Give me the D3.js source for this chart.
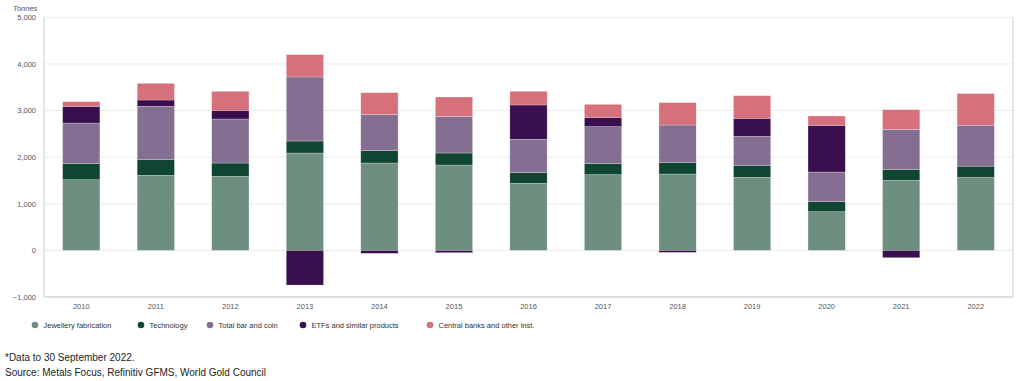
<!DOCTYPE html>
<html>
<head>
<meta charset="utf-8">
<script src="https://cdn.jsdelivr.net/npm/d3@7"></script>
<style>
  body { margin: 0; background: #fff; font-family: "Liberation Sans", Arial, sans-serif; }
  .note { font-size: 10px; fill: #222; }
</style>
</head>
<body>
<div id="chart"></div>
<script>

// frame constants
const FRAME_WIDTH = 1024;
const FRAME_HEIGHT = 381;
const MARGINS = {left: 44, right: 11, top: 17.3, bottom: 84};

const VIS_WIDTH = FRAME_WIDTH - MARGINS.left - MARGINS.right;
const VIS_HEIGHT = FRAME_HEIGHT - MARGINS.top - MARGINS.bottom;

// data (tonnes)
const YEARS = ["2010", "2011", "2012", "2013", "2014", "2015", "2016",
               "2017", "2018", "2019", "2020", "2021", "2022"];
const JEWELLERY = [1516, 1609, 1588, 2089, 1874, 1831, 1438, 1624, 1638, 1567, 830, 1502, 1564];
const TECHNOLOGY = [344, 344, 286, 257, 265, 258, 236, 236, 250, 257, 214, 236, 243];
const BAR_COIN = [872, 1137, 944, 1374, 779, 787, 708, 794, 802, 622, 637, 859, 879];
const ETFS = [358, 136, 186, -744, -64, -50, 737, 200, -43, 387, 1001, -157, 0];
const CENTRAL_BANKS = [100, 358, 408, 479, 465, 414, 293, 279, 479, 486, 201, 422, 678];

const SERIES = ["Jewellery fabrication", "Technology", "Total bar and coin",
                "ETFs and similar products", "Central banks and other inst."];
const COLORS = ["#6e8f80", "#0f4531", "#846f93", "#3a0f4e", "#d6707a"];
const Y_TICKS = [-1000, 0, 1000, 2000, 3000, 4000, 5000];

// table for the stack
const table = YEARS.map((y, i) => ({
  year: y,
  [SERIES[0]]: JEWELLERY[i],
  [SERIES[1]]: TECHNOLOGY[i],
  [SERIES[2]]: BAR_COIN[i],
  [SERIES[3]]: ETFS[i],
  [SERIES[4]]: CENTRAL_BANKS[i]
}));

const stacked = d3.stack()
  .keys(SERIES)
  .offset(d3.stackOffsetDiverging)(table);

const FRAME = d3.select("#chart")
  .append("svg")
    .attr("width", FRAME_WIDTH)
    .attr("height", FRAME_HEIGHT);

const X_SCALE = d3.scaleBand()
  .domain(YEARS)
  .range([0, VIS_WIDTH])
  .paddingInner(0.5)
  .paddingOuter(0.25);

const Y_SCALE = d3.scaleLinear()
  .domain([-1000, 5000])
  .range([VIS_HEIGHT, 0]);

const G = FRAME.append("g")
  .attr("transform", "translate(" + MARGINS.left + "," + MARGINS.top + ")");

// gridlines
G.append("g")
  .selectAll("line")
  .data(Y_TICKS)
  .enter()
  .append("line")
    .attr("x1", 0)
    .attr("x2", VIS_WIDTH)
    .attr("y1", (d) => Y_SCALE(d))
    .attr("y2", (d) => Y_SCALE(d))
    .attr("stroke", "#ebebeb")
    .attr("stroke-width", 1);

// bars
G.append("g")
  .selectAll("g")
  .data(stacked)
  .enter()
  .append("g")
    .attr("fill", (d, i) => COLORS[i])
  .selectAll("rect")
  .data((d) => d)
  .enter()
  .append("rect")
    .attr("x", (d) => X_SCALE(d.data.year))
    .attr("y", (d) => Y_SCALE(Math.max(d[0], d[1])))
    .attr("width", X_SCALE.bandwidth())
    .attr("height", (d) => Math.abs(Y_SCALE(d[0]) - Y_SCALE(d[1])))
    .attr("stroke", "#fff")
    .attr("stroke-opacity", 0.5)
    .attr("stroke-width", 0.5);

// frame box: left, right, bottom
G.append("path")
  .attr("d", "M0,0V" + VIS_HEIGHT + "H" + VIS_WIDTH + "V0")
  .attr("fill", "none")
  .attr("stroke", "#cccccc")
  .attr("stroke-width", 1);

// y axis labels
const yAxis = G.append("g")
  .call(d3.axisLeft(Y_SCALE).tickValues(Y_TICKS).tickSize(0).tickPadding(8)
          .tickFormat(d3.format(",")));
yAxis.select(".domain").remove();
yAxis.selectAll("text")
  .attr("font-family", "'Liberation Sans', Arial, sans-serif")
  .attr("font-size", "7.5px")
  .attr("fill", "#555");

// x axis labels
const xAxis = G.append("g")
  .attr("transform", "translate(0," + VIS_HEIGHT + ")")
  .call(d3.axisBottom(X_SCALE).tickSize(0).tickPadding(7));
xAxis.select(".domain").remove();
xAxis.selectAll("text")
  .attr("font-family", "'Liberation Sans', Arial, sans-serif")
  .attr("font-size", "7.5px")
  .attr("fill", "#555");

// unit label
FRAME.append("text")
  .attr("x", 13)
  .attr("y", 11)
  .attr("font-size", "7.5px")
  .attr("font-style", "italic")
  .attr("fill", "#555")
  .text("Tonnes");

// legend
const LEGEND_X = [35, 141, 210, 303, 430];
const legend = FRAME.append("g")
  .selectAll("g")
  .data(SERIES)
  .enter()
  .append("g")
    .attr("transform", (d, i) => "translate(" + LEGEND_X[i] + ",325)");
legend.append("circle")
  .attr("r", 3.3)
  .attr("fill", (d, i) => COLORS[i]);
legend.append("text")
  .attr("x", 8.5)
  .attr("y", 2.7)
  .attr("font-size", "7.5px")
  .attr("fill", "#333")
  .text((d) => d);

// footnotes
FRAME.append("text").attr("class", "note")
  .attr("x", 5).attr("y", 361)
  .text("*Data to 30 September 2022.");
FRAME.append("text").attr("class", "note")
  .attr("x", 5).attr("y", 376)
  .text("Source: Metals Focus, Refinitiv GFMS, World Gold Council");

</script>
</body>
</html>
